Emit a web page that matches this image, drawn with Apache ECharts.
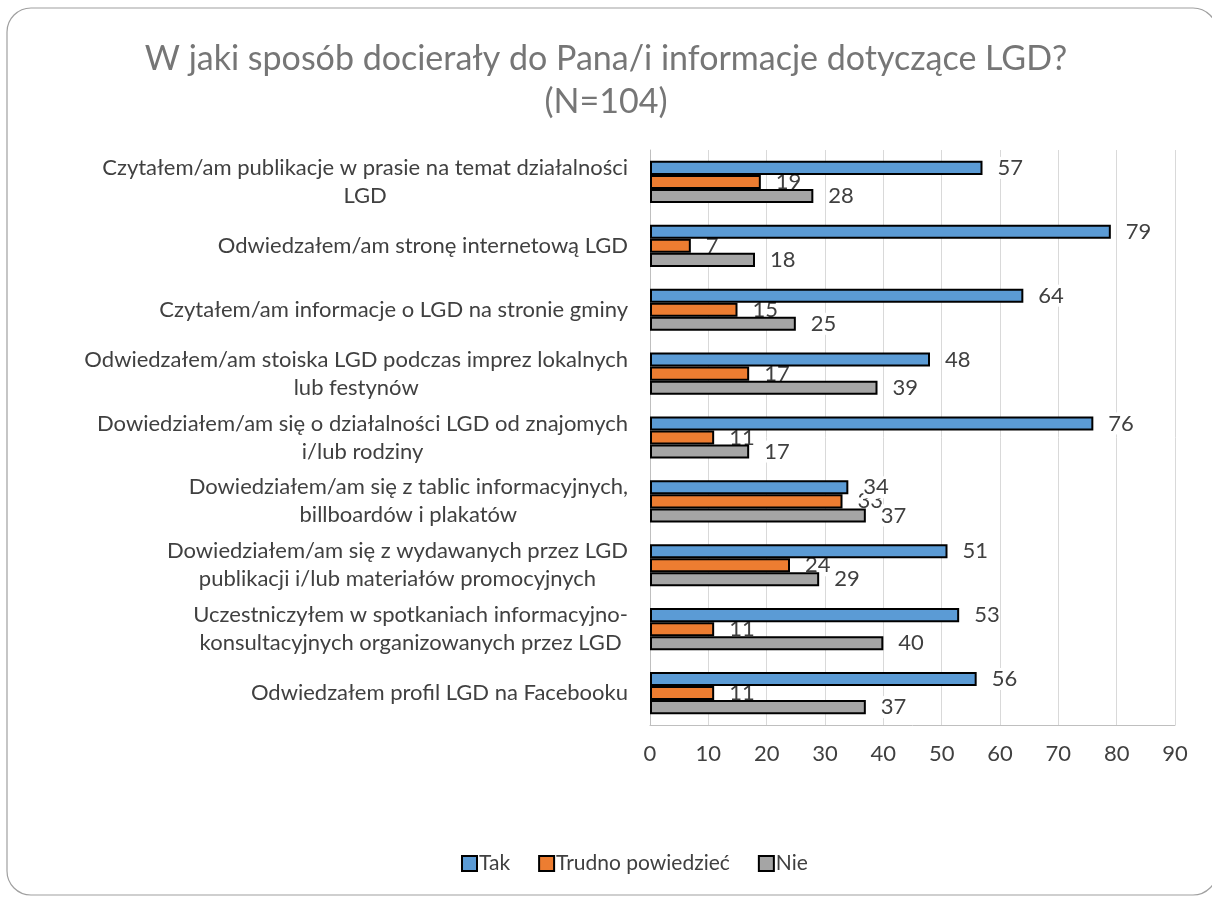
<!DOCTYPE html>
<html lang="pl">
<head>
<meta charset="utf-8">
<title>LGD</title>
<script src="https://cdn.jsdelivr.net/npm/echarts@6/dist/echarts.min.js"></script>
<style>
  html, body { margin: 0; padding: 0; background: #fff; }
  #main { width: 1212px; height: 898px; }
</style>
</head>
<body>
<div id="main"></div>
<script>
// kategorie (od góry)
var categories = [
  'Czytałem/am publikacje w prasie na temat działalności\nLGD',
  'Odwiedzałem/am stronę internetową LGD',
  'Czytałem/am informacje o LGD na stronie gminy',
  'Odwiedzałem/am stoiska LGD podczas imprez lokalnych\nlub festynów',
  'Dowiedziałem/am się o działalności LGD od znajomych\ni/lub rodziny',
  'Dowiedziałem/am się z tablic informacyjnych,\nbillboardów i plakatów',
  'Dowiedziałem/am się z wydawanych przez LGD\npublikacji i/lub materiałów promocyjnych',
  'Uczestniczyłem w spotkaniach informacyjno-\nkonsultacyjnych organizowanych przez LGD',
  'Odwiedzałem profil LGD na Facebooku'
];
var tak = [57, 79, 64, 48, 76, 34, 51, 53, 56];
var trudno = [19, 7, 15, 17, 11, 33, 24, 11, 11];
var nie = [28, 18, 25, 39, 17, 37, 29, 40, 37];

var font = 'Lato, "Open Sans", sans-serif';

function bar(name, data, color, z) {
  return {
    name: name,
    type: 'bar',
    z: z,
    data: data,
    barGap: '0%',
    barCategoryGap: '34%',
    itemStyle: { color: color, borderColor: '#000', borderWidth: 2 },
    label: {
      show: true,
      position: 'right',
      distance: 15,
      color: '#404040',
      fontSize: 22,
      fontFamily: font,
      backgroundColor: '#fff'
    }
  };
}

var myChart = echarts.init(document.getElementById('main'));
var option = {
  animation: false,
  backgroundColor: '#fff',
  textStyle: { fontFamily: font },
  graphic: [{
    type: 'rect',
    shape: { x: 7, y: 8, width: 1210, height: 887, r: 24 },
    style: { fill: 'none', stroke: '#a0a0a0', lineWidth: 1.2 },
    z: -1
  }],
  title: {
    text: 'W jaki sposób docierały do Pana/i informacje dotyczące LGD?\n(N=104)',
    left: 'center',
    top: 33,
    textStyle: {
      color: '#767676',
      fontSize: 34,
      fontWeight: 'normal',
      fontFamily: font,
      lineHeight: 43
    }
  },
  legend: {
    bottom: 19,
    left: 456,
    icon: 'rect',
    itemWidth: 15,
    itemHeight: 15,
    itemGap: 28,
    itemStyle: { borderColor: '#000', borderWidth: 2 },
    textStyle: { color: '#404040', fontSize: 21, fontFamily: font, padding: [0, 0, 0, -3] },
    data: ['Tak', 'Trudno powiedzieć', 'Nie']
  },
  grid: { left: 650, right: 37, top: 150, bottom: 173 },
  xAxis: {
    type: 'value',
    min: 0,
    max: 90,
    interval: 10,
    axisLine: { show: true, lineStyle: { color: '#bfbfbf' } },
    axisTick: { show: false },
    splitLine: { show: true, lineStyle: { color: '#d9d9d9', width: 1 } },
    axisLabel: { color: '#404040', fontSize: 22, margin: 18, fontFamily: font }
  },
  yAxis: {
    type: 'category',
    inverse: true,
    data: categories,
    axisLine: { show: true, lineStyle: { color: '#bfbfbf' } },
    axisTick: { show: false },
    axisLabel: {
      color: '#404040',
      fontSize: 22,
      margin: 22,
      lineHeight: 28,
      align: 'right',
      fontFamily: font,
      formatter: function (v) {
        // druga linia wyśrodkowana jak w oryginale
        var parts = v.split('\n');
        if (parts.length === 1) return v;
        return parts.map(function (p, i) { return '{c' + i + '|' + p + '}'; }).join('\n');
      },
      rich: {
        c0: { color: '#404040', fontSize: 22, fontFamily: font, align: 'center', lineHeight: 28 },
        c1: { color: '#404040', fontSize: 22, fontFamily: font, align: 'center', lineHeight: 28 }
      }
    }
  },
  series: [
    bar('Tak', tak, '#5b9bd5', 3),
    bar('Trudno powiedzieć', trudno, '#ed7d31', 2),
    bar('Nie', nie, '#a5a5a5', 3)
  ]
};
myChart.setOption(option);
</script>
</body>
</html>
